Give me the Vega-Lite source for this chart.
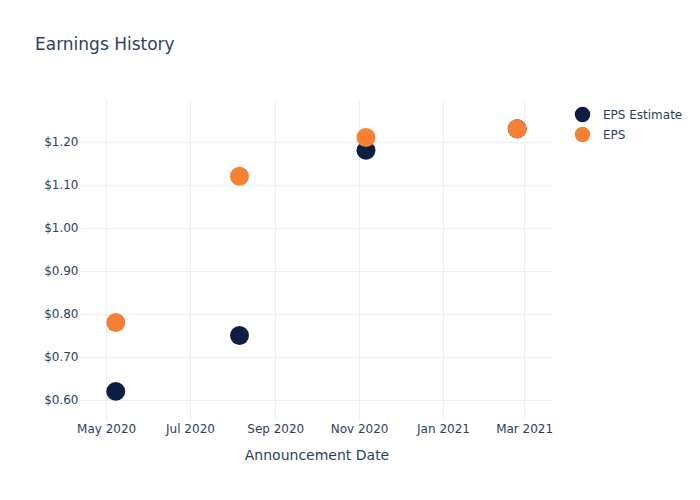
{
  "$schema": "https://vega.github.io/schema/vega-lite/v6.json",
  "autosize": {"type": "none"},
  "width": 473,
  "height": 320,
  "padding": {"left": 80, "top": 100, "right": 147, "bottom": 80},
  "background": "white",
  "title": {
    "text": "Earnings History",
    "anchor": "start",
    "frame": "group",
    "dx": -45,
    "offset": 46,
    "font": "DejaVu Sans",
    "fontSize": 17,
    "fontWeight": "normal",
    "color": "#2a3f5f"
  },
  "data": {
    "values": [
      {"date": "2020-05-08", "series": "EPS Estimate", "value": 0.62},
      {"date": "2020-08-06", "series": "EPS Estimate", "value": 0.75},
      {"date": "2020-11-06", "series": "EPS Estimate", "value": 1.18},
      {"date": "2021-02-24", "series": "EPS Estimate", "value": 1.23},
      {"date": "2020-05-08", "series": "EPS", "value": 0.78},
      {"date": "2020-08-06", "series": "EPS", "value": 1.12},
      {"date": "2020-11-06", "series": "EPS", "value": 1.21},
      {"date": "2021-02-24", "series": "EPS", "value": 1.23}
    ]
  },
  "mark": {"type": "point", "filled": true, "opacity": 1, "size": 360},
  "encoding": {
    "x": {
      "field": "date",
      "type": "temporal",
      "scale": {
        "type": "utc",
        "domain": [
          {"year": 2020, "month": 4, "date": 12, "utc": true},
          {"year": 2021, "month": 3, "date": 22, "utc": true}
        ],
        "nice": false
      },
      "axis": {
        "title": "Announcement Date",
        "values": [
          {"year": 2020, "month": 5, "date": 1, "utc": true},
          {"year": 2020, "month": 7, "date": 1, "utc": true},
          {"year": 2020, "month": 9, "date": 1, "utc": true},
          {"year": 2020, "month": 11, "date": 1, "utc": true},
          {"year": 2021, "month": 1, "date": 1, "utc": true},
          {"year": 2021, "month": 3, "date": 1, "utc": true}
        ],
        "format": "%b %Y",
        "labelFont": "DejaVu Sans",
        "labelFontSize": 12,
        "labelColor": "#2a3f5f",
        "labelPadding": 3,
        "titleFont": "DejaVu Sans",
        "titleFontSize": 14,
        "titleFontWeight": "normal",
        "titleColor": "#2a3f5f",
        "titlePadding": 14,
        "domain": false,
        "ticks": false,
        "grid": true,
        "gridColor": "#ebf0f8",
        "gridWidth": 1
      }
    },
    "y": {
      "field": "value",
      "type": "quantitative",
      "scale": {"domain": [0.5535, 1.297], "nice": false, "zero": false},
      "axis": {
        "title": null,
        "values": [0.6, 0.7, 0.8, 0.9, 1.0, 1.1, 1.2],
        "format": "$.2f",
        "labelFont": "DejaVu Sans",
        "labelFontSize": 12,
        "labelColor": "#2a3f5f",
        "labelPadding": 2,
        "domain": false,
        "ticks": false,
        "grid": true,
        "gridColor": "#ebf0f8",
        "gridWidth": 1
      }
    },
    "color": {
      "field": "series",
      "type": "nominal",
      "scale": {"domain": ["EPS Estimate", "EPS"], "range": ["#0c1f43", "#f58134"]},
      "legend": {
        "title": null,
        "orient": "none",
        "legendX": 494,
        "legendY": 6,
        "symbolType": "circle",
        "symbolSize": 240,
        "symbolOpacity": 1,
        "labelFont": "DejaVu Sans",
        "labelFontSize": 12,
        "labelColor": "#2a3f5f",
        "labelOffset": 12,
        "rowPadding": 3
      }
    },
    "order": {"field": "series", "sort": "descending"}
  },
  "config": {"view": {"stroke": null}}
}
